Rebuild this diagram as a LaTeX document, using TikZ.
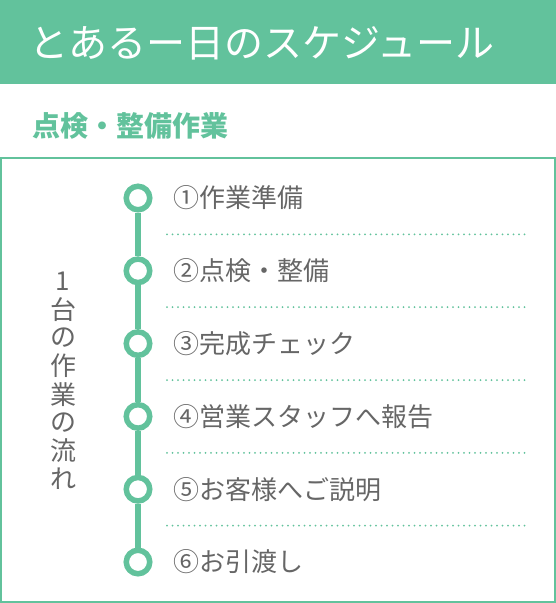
\documentclass[tikz,border=0pt]{standalone}
\usepackage{fontspec}
\setmainfont{Noto Sans CJK JP}
\definecolor{mint}{HTML}{62C29C}
\definecolor{txtgray}{HTML}{666666}
\begin{document}
\begin{tikzpicture}[x=1pt,y=-1pt,
  titletext/.style={font=\fontsize{39}{42}\selectfont, text=white, anchor=west, inner sep=0pt},
  subtitletext/.style={font=\bfseries\fontsize{28}{30}\selectfont, text=mint, anchor=west, inner sep=0pt},
  lab/.style={font=\fontsize{26}{28}\selectfont, text=txtgray, anchor=west, inner sep=0pt},
  vchar/.style={font=\fontsize{26}{28}\selectfont, text=txtgray, inner sep=0pt},
  dotc/.style={circle, draw=mint, line width=5.5pt, fill=white, minimum size=23.5pt, inner sep=0pt},
  linkline/.style={draw=mint, line width=6pt},
  dotline/.style={draw=mint, line width=2pt, line cap=round, dash pattern=on 0pt off 5.5pt},
  frame/.style={draw=mint, line width=2pt}]
\useasboundingbox (0,0) rectangle (556,603);
\fill[mint] (0,0) rectangle (556,84);
\node[titletext] (title) at (29,43) {とあるー日のスケジュール};
\node[subtitletext] (sub) at (32,126) {点検・整備作業};
\draw[frame] (1,158) rectangle (555,602);
% vertical text
\foreach \c [count=\i from 0] in {1,台,の,作,業,の,流,れ}
  \node[vchar] (v\i) at (63,281+28.3*\i) {\c};
% timeline
\foreach \t [count=\i from 1] in {①作業準備,②点検・整備,③完成チェック,④営業スタッフへ報告,⑤お客様へご説明,⑥お引渡し}{
  \node[dotc] (c\i) at (138,198+72.8*\i-72.8) {};
  \node[lab] (l\i) at (173,198+72.8*\i-72.8) {\t};
}
\foreach \i [evaluate=\i as \j using int(\i+1)] in {1,...,5}{
  \draw[linkline] (c\i) -- (c\j);
  \coordinate (ds\i) at (167,234.4+72.8*\i-72.8);
  \coordinate (de\i) at (527,234.4+72.8*\i-72.8);
  \draw[dotline] (ds\i) -- (de\i);
}
\end{tikzpicture}
\end{document}
